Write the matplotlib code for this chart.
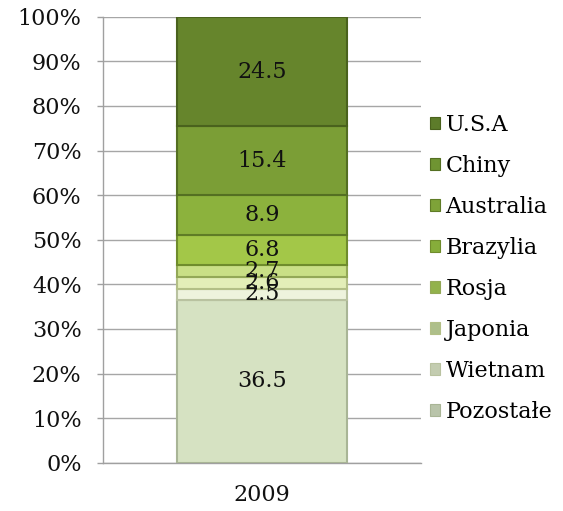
import matplotlib.pyplot as plt
from matplotlib.patches import Patch

# data (percent shares, 2009), stacked bottom -> top
countries = ["Pozostałe", "Wietnam", "Japonia", "Rosja",
             "Brazylia", "Australia", "Chiny", "U.S.A"]
shares = [36.5, 2.5, 2.6, 2.7, 6.8, 8.9, 15.4, 24.5]
category = "2009"

colors = ["#d6e2c2", "#eef3dd", "#e3eeb8", "#c9df86",
          "#a3c748", "#8cb23d", "#7b9e36", "#66852c"]
edges = ["#a9b596", "#b9c2a0", "#b3bf86", "#93a857",
         "#6f8c2c", "#5f7c26", "#546f22", "#4a621d"]
# legend swatches read a bit darker than the bar faces
swatch = ["#b9c4aa", "#c3ccb0", "#aebf8a", "#92b24c",
          "#86ad3a", "#7ea338", "#6f9432", "#5d7c2a"]

plt.rcParams['font.family'] = ['DejaVu Serif']
fs = 16

fig = plt.figure(figsize=(5.63, 5.11), dpi=100)
ax = fig.add_axes([0.183, 0.0945, 0.565, 0.8728])

bottom = 0
for name, val, c, ec in zip(countries, shares, colors, edges):
    ax.bar(0, val, bottom=bottom, width=0.535, color=c, edgecolor=ec,
           linewidth=1.5, zorder=3)
    ax.text(0, bottom + val / 2, f"{val}", ha="center", va="center",
            fontsize=fs, color="#111111", zorder=4)
    bottom += val

ax.set_xlim(-0.5, 0.5)
ax.set_ylim(0, 100)
ax.set_yticks(range(0, 101, 10))
ax.set_yticklabels([f"{v}%" for v in range(0, 101, 10)])
ax.set_xticks([0])
ax.set_xticklabels([category])
ax.tick_params(axis="y", direction="out", length=4.5, width=1, color="#a0a0a0",
               pad=11, labelsize=fs, labelcolor="#111111")
ax.tick_params(axis="x", length=0, pad=15, labelsize=fs, labelcolor="#111111")

ax.grid(axis="y", color="#a6a6a6", linewidth=1, zorder=0)
for s in ["top", "right"]:
    ax.spines[s].set_visible(False)
for s in ["left", "bottom"]:
    ax.spines[s].set_color("#a0a0a0")
    ax.spines[s].set_linewidth(1)

handles = [Patch(facecolor=c, edgecolor=ec, linewidth=0.8)
           for c, ec in zip(swatch, edges)][::-1]
fig.legend(handles, countries[::-1], loc="center left",
           bbox_to_anchor=(430 / 563, 0.4746), frameon=False,
           fontsize=fs, handlelength=0.45, handleheight=0.45,
           handletextpad=0.25, labelspacing=0.86, borderpad=0,
           borderaxespad=0)

fig.savefig("out.png", dpi=100)
